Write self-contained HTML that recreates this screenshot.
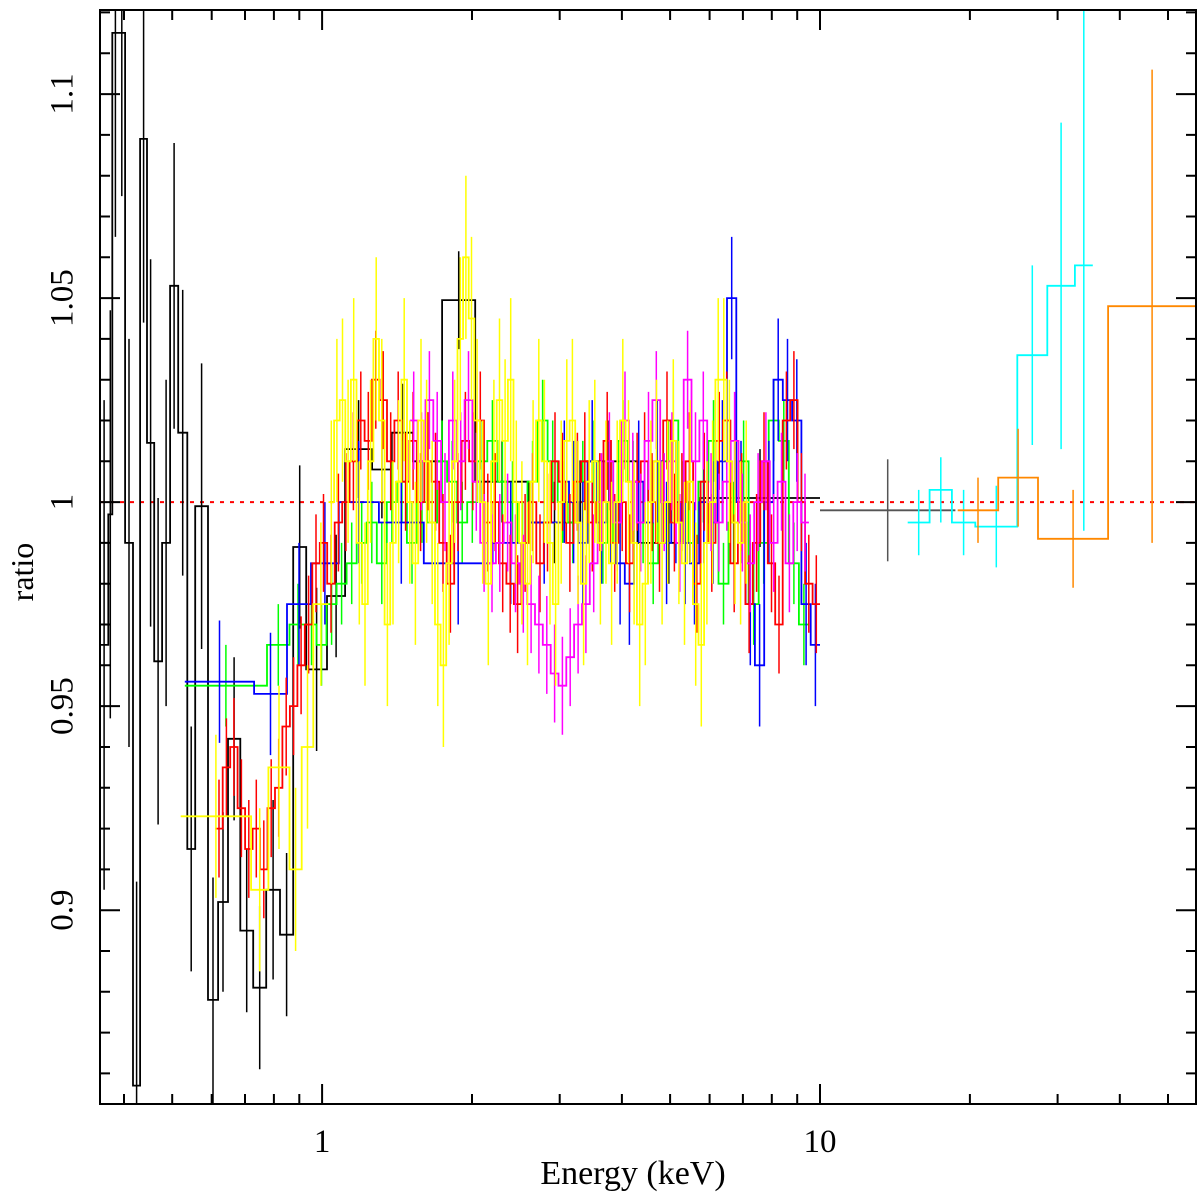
<!DOCTYPE html>
<html><head><meta charset="utf-8"><style>
html,body{margin:0;padding:0;background:#fff;width:1200px;height:1200px;overflow:hidden}
svg{display:block}
text{font-family:"Liberation Serif",serif;fill:#000}
</style></head><body>
<svg id="chart" width="1200" height="1200" viewBox="0 0 1200 1200" xmlns="http://www.w3.org/2000/svg">
<defs><clipPath id="clip"><rect x="100" y="10" width="1096" height="1094"/></clipPath></defs>
<g id="plot" clip-path="url(#clip)"></g>
<rect x="100" y="10" width="1096" height="1094" fill="none" stroke="#000" stroke-width="2"/>
<g id="axes"></g>
<text x="33" y="572" font-size="32" text-anchor="middle" transform="rotate(-90 33 572)">ratio</text>
<text x="633" y="1184" font-size="34" text-anchor="middle">Energy (keV)</text>
</svg>
<script>
// ---- data ----
const blackEdges=[0.358,0.372,0.379,0.390,0.402,0.417,0.431,0.445,0.460,0.477,0.495,0.514,0.536,0.556,0.590,0.618,0.647,0.685,0.727,0.772,0.823,0.875,0.929,1.023,1.112,1.26,1.38,1.523,1.742,2.03,2.6,3.3,4.3,5.74,10.0];
const blackVals=[0.965,0.997,1.115,1.115,0.990,0.857,1.089,1.0145,0.961,0.990,1.053,1.017,0.915,0.999,0.878,0.902,0.942,0.895,0.881,0.905,0.894,0.989,0.959,0.977,1.013,1.008,1.017,1.010,1.0495,1.005,0.995,1.01,0.99,1.001];
const blackErrs=[0.06,0.05,0.05,0.04,0.05,0.05,0.045,0.045,0.04,0.04,0.035,0.035,0.03,0.035,0.03,0.022,0.02,0.02,0.02,0.022,0.02,0.02,0.02,0.015,0.012,0.012,0.012,0.012,0.012,0.01,0.01,0.01,0.01,0.012];
const grayEdges=[10.0,18.7];
const grayVals=[0.998];
const grayErrs=[0.0125];
const redRange=[0.61,10.0];
const redVals=[0.92,0.935,0.94,0.925,0.915,0.92,0.91,0.925,0.93,0.945,0.95,0.96,0.97,0.985,0.99,0.98,0.995,1.0,1.01,1.02,1.015,1.03,1.025,1.01,1.02,1.005,1.015,1.0,1.01,1.005,0.99,0.98,1.0,1.015,1.01,1.02,0.995,1.0,0.985,0.98,0.975,0.99,1.0,0.985,0.995,1.01,1.005,0.99,1.005,1.01,0.995,1.0,1.015,0.99,1.0,0.985,1.005,1.01,1.0,0.99,1.02,0.995,1.0,1.01,0.98,1.005,0.99,1.015,1.02,0.985,1.0,0.975,0.99,1.01,0.985,0.97,1.02,1.025,1.0,0.98,0.975];
const redErr=0.012;
const magentaRange=[1.5,9.5];
const magentaVals=[1.02,1.01,1.025,1.015,1.0,1.02,1.01,1.025,1.005,0.99,0.985,0.99,0.995,0.985,0.98,0.975,0.97,0.965,0.958,0.955,0.962,0.97,0.975,0.985,1.0,1.01,0.995,1.02,1.005,0.995,1.015,1.025,1.0,1.01,0.99,1.03,1.01,1.02,1.0,0.995,1.005,1.015,0.995,0.985,1.0,1.01,0.99,1.005,0.985,1.0,0.995];
const magentaErr=0.012;
const yellowLowEdges=[0.52,0.72,0.78,0.86,0.91,0.96,1.03];
const yellowLowVals=[0.923,0.905,0.935,0.91,0.94,0.975];
const yellowRange=[1.03,7.2];
const yellowVals=[1.0,1.02,1.025,1.01,1.03,0.99,0.975,1.01,1.04,1.02,0.97,0.99,1.005,1.03,1.0,0.985,1.02,1.01,0.995,0.97,0.96,0.985,1.01,1.04,1.06,1.045,1.02,1.0,0.98,1.01,1.025,1.015,1.03,1.0,0.99,0.98,1.005,1.02,1.01,0.99,0.975,1.0,1.015,1.02,0.995,0.98,1.005,1.01,0.99,1.0,0.985,1.0,1.02,1.005,0.99,0.97,0.98,1.0,1.01,0.99,1.0,1.015,0.995,0.985,1.005,0.975,0.965,0.99,1.0,1.03,1.03,1.01,0.995,0.99,1.0];
const yellowErr=0.02;
const greenLowEdges=[0.53,0.775,0.86,0.93];
const greenLowVals=[0.955,0.965,0.97];
const greenRange=[0.93,9.5];
const greenVals=[0.97,0.965,0.975,0.98,0.985,0.99,0.995,0.985,1.0,1.005,0.99,1.0,0.995,1.01,1.005,0.995,1.0,1.01,1.015,1.005,1.0,0.99,1.005,1.02,1.01,1.0,0.995,1.005,1.01,0.99,1.0,1.015,1.005,0.995,0.985,1.01,1.02,1.0,0.99,1.005,1.015,0.98,0.995,1.01,0.975,0.99,1.02,1.015,0.985,0.97];
const greenErr=0.01;
const blueLowEdges=[0.53,0.73,0.85,0.95,1.08,1.3,1.6,2.2,2.6,3.0];
const blueLowVals=[0.956,0.953,0.975,0.985,1.0,0.995,0.985,0.99,0.995];
const blueRange=[3.0,10.0];
const blueVals=[1.005,1.0,0.99,1.01,0.995,1.0,0.985,0.98,1.005,0.995,1.01,0.99,1.0,0.99,0.985,1.0,0.995,1.01,1.05,1.0,0.975,0.96,1.0,1.03,1.025,1.02,0.975,0.965];
const blueErr=0.015;
const cyanEdges=[15.0,16.6,18.4,20.5,24.9,28.6,32.5,35.3];
const cyanVals=[0.995,1.003,0.995,0.994,1.036,1.053,1.058];
const cyanErrs=[0.008,0.008,0.008,0.01,0.022,0.04,0.065];
const orangeEdges=[18.9,22.8,27.4,37.9,56.9];
const orangeVals=[0.998,1.006,0.991,1.048];
const orangeErrs=[0.008,0.012,0.012,0.058];
const xMajorTicks=[1,10];
const xMinorTicks=[0.4,0.5,0.6,0.7,0.8,0.9,2,3,4,5,6,7,8,9,20,30,40,50];
const yMajorTicks=[0.9,0.95,1,1.05,1.1];
const yTickLabels=["0.9","0.95","1","1.05","1.1"];

// ---- scales ----
const X0=100,X1=1196,Y0=10,Y1=1104;
const LMIN=Math.log10(0.358),LMAX=Math.log10(56.9);
const VMIN=0.8525,VMAX=1.1206;
function xs(e){return X0+(Math.log10(e)-LMIN)/(LMAX-LMIN)*(X1-X0);}
function ys(v){return Y1-(v-VMIN)/(VMAX-VMIN)*(Y1-Y0);}
function cy(v){return Math.max(Y0,Math.min(Y1,ys(v))).toFixed(1);}
function cx(e){return Math.max(X0,Math.min(X1,xs(e))).toFixed(1);}
const NS="http://www.w3.org/2000/svg";
const plot=document.getElementById('plot');
const axes=document.getElementById('axes');
function logEdges(r,n){const a=Math.log10(r[0]),b=Math.log10(r[1]);const out=[];for(let i=0;i<=n;i++)out.push(Math.pow(10,a+(b-a)*i/n));return out;}
function drawSeries(name,color,edges,vals,errs){
  const g=document.createElementNS(NS,'g');
  
  
  let d='M'+cx(edges[0])+','+cy(vals[0]);
  for(let i=0;i<vals.length;i++){
    if(i>0)d+='V'+cy(vals[i]);
    d+='H'+cx(edges[i+1]);
  }
  let eb='';
  for(let i=0;i<vals.length;i++){
    const e=Array.isArray(errs)?errs[i]:errs;
    const xc=cx(Math.sqrt(edges[i]*edges[i+1]));
    eb+='M'+xc+','+cy(vals[i]+e)+'V'+cy(vals[i]-e);
  }
  const p1=document.createElementNS(NS,'path');
  p1.setAttribute('d',eb);p1.setAttribute('stroke',color);p1.setAttribute('stroke-width','1.5');p1.setAttribute('fill','none');
  
  
  const p2=document.createElementNS(NS,'path');
  p2.setAttribute('d',d);p2.setAttribute('stroke',color);p2.setAttribute('stroke-width','1.8');p2.setAttribute('fill','none');
  
  
  g.appendChild(p1);g.appendChild(p2);plot.appendChild(g);
}
const ref=document.createElementNS(NS,'line');
ref.setAttribute('x1',X0);ref.setAttribute('x2',X1);ref.setAttribute('y1',ys(1));ref.setAttribute('y2',ys(1));
ref.setAttribute('stroke','#f00');ref.setAttribute('stroke-width','2');ref.setAttribute('stroke-dasharray','4,6');


plot.appendChild(ref);

drawSeries('black-series','#000',blackEdges,blackVals,blackErrs);
drawSeries('gray-series','#555',grayEdges,grayVals,grayErrs);
drawSeries('green-series-low','#0f0',greenLowEdges,greenLowVals,greenErr);
drawSeries('green-series','#0f0',logEdges(greenRange,greenVals.length),greenVals,greenErr);
drawSeries('blue-series-low','#00f',blueLowEdges,blueLowVals,blueErr);
drawSeries('blue-series','#00f',logEdges(blueRange,blueVals.length),blueVals,blueErr);
drawSeries('red-series','#f00',logEdges(redRange,redVals.length),redVals,redErr);
drawSeries('magenta-series','#f0f',logEdges(magentaRange,magentaVals.length),magentaVals,magentaErr);
drawSeries('yellow-series-low','#ff0',yellowLowEdges,yellowLowVals,yellowErr);
drawSeries('yellow-series','#ff0',logEdges(yellowRange,yellowVals.length),yellowVals,yellowErr);
drawSeries('cyan-series','#0ff',cyanEdges,cyanVals,cyanErrs);
drawSeries('orange-series','#f80',orangeEdges,orangeVals,orangeErrs);

// ---- axes ----
let td='';
xMajorTicks.forEach(t=>{const x=xs(t).toFixed(1);td+='M'+x+','+Y1+'v-20M'+x+','+Y0+'v20';});
xMinorTicks.forEach(t=>{const x=xs(t).toFixed(1);td+='M'+x+','+Y1+'v-10M'+x+','+Y0+'v10';});
for(let v=0.86;v<=1.12;v+=0.01){
  const y=ys(v).toFixed(1);
  const major=Math.abs(Math.round(v*100)%5)===0;
  const L=major?20:10;
  td+='M'+X0+','+y+'h'+L+'M'+X1+','+y+'h-'+L;
}
const tp=document.createElementNS(NS,'path');
tp.setAttribute('d',td);tp.setAttribute('stroke','#000');tp.setAttribute('stroke-width','2');


axes.appendChild(tp);
xMajorTicks.forEach(t=>{
  const tx=document.createElementNS(NS,'text');
  tx.setAttribute('x',xs(t));tx.setAttribute('y',1152);tx.setAttribute('font-size','33');tx.setAttribute('text-anchor','middle');
  tx.textContent=String(t);
  
  
  axes.appendChild(tx);
});
yMajorTicks.forEach((t,i)=>{
  const y=ys(t);
  const tx=document.createElementNS(NS,'text');
  tx.setAttribute('x',65);tx.setAttribute('y',y);tx.setAttribute('font-size','33');tx.setAttribute('text-anchor','middle');
  tx.setAttribute('dominant-baseline','middle');
  tx.setAttribute('transform','rotate(-90 65 '+y+')');
  tx.textContent=yTickLabels[i];
  
  
  axes.appendChild(tx);
});
</script>
</body></html>
